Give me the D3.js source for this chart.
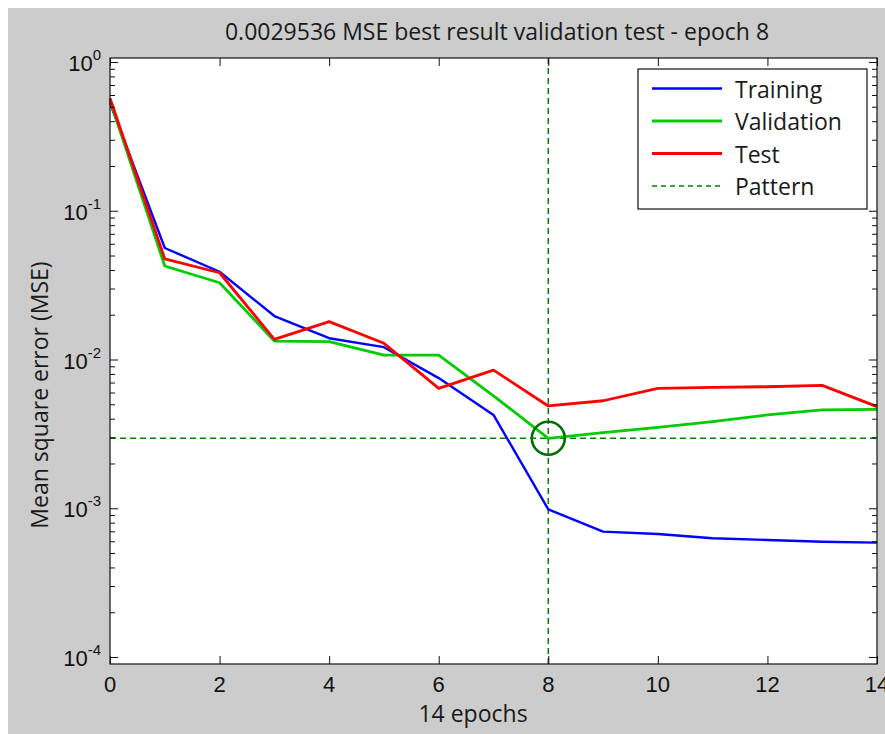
<!DOCTYPE html>
<html><head><meta charset="utf-8">
<script src="https://cdn.jsdelivr.net/npm/d3@7"></script>
<style>body{margin:0;background:#fff}svg{display:block}</style>
</head><body>
<svg id="chart" width="885" height="734"></svg>
<script>
// ---- data ----
const epochs = [0,1,2,3,4,5,6,7,8,9,10,11,12,13,14];
const training   = [0.53, 0.0562, 0.0389, 0.0196, 0.0139, 0.0121, 0.0075, 0.00424, 0.000984, 0.000696, 0.000671, 0.000628, 0.000612, 0.000596, 0.000587];
const validation = [0.55, 0.0425, 0.0328, 0.0133, 0.0132, 0.0107, 0.0107, 0.0057, 0.0029536, 0.00322, 0.0035, 0.00382, 0.00424, 0.00458, 0.00462];
const test       = [0.57, 0.0474, 0.0383, 0.01367, 0.01796, 0.01285, 0.0064, 0.00849, 0.00487, 0.00528, 0.0064, 0.0065, 0.00656, 0.0067, 0.00482];
const bestEpoch = 8;
const bestValue = 0.0029536;
const xTicks = [0,2,4,6,8,10,12,14];
const yTickExponents = [0,-1,-2,-3,-4];
const seriesNames = ["Training","Validation","Test","Pattern"];
const titleText = "0.0029536 MSE best result validation test - epoch 8";
const xLabelText = "14 epochs";
const yLabelText = "Mean square error (MSE)";

// ---- layout ----
const svg = d3.select("#chart");
const W = 885, H = 734;
const left = 110, right = 877;
const yTopDecade = 62, yBotDecade = 657;
const frameTop = 58, frameBottom = 664;

svg.append("rect").attr("x",8).attr("y",8).attr("width",W-8).attr("height",H-8).attr("fill","#cccccc");

const x = d3.scaleLinear().domain([0,14]).range([left,right]);
const y = d3.scaleLog().domain([1e-4,1]).range([yBotDecade,yTopDecade]);

svg.append("rect").attr("x",left).attr("y",frameTop).attr("width",right-left).attr("height",frameBottom-frameTop)
  .attr("fill","#ffffff");

const tickFont = "'Liberation Sans', Arial, sans-serif";
const textFont = "'Open Sans', 'Noto Sans', sans-serif";

// pattern lines
const patColor = "#008000";
svg.append("line").attr("x1",x(bestEpoch)).attr("x2",x(bestEpoch)).attr("y1",frameTop).attr("y2",frameBottom)
  .attr("stroke",patColor).attr("stroke-width",1.5).attr("stroke-dasharray","6,4");
svg.append("line").attr("x1",left).attr("x2",right).attr("y1",y(bestValue)).attr("y2",y(bestValue))
  .attr("stroke",patColor).attr("stroke-width",1.5).attr("stroke-dasharray","6,4");

// data lines
const line = d3.line().x((d,i)=>x(epochs[i])).y(d=>y(d));
const series = [
  {name:"Training", values:training, color:"#0000ff", w:2.4},
  {name:"Validation", values:validation, color:"#00cc00", w:2.8},
  {name:"Test", values:test, color:"#ff0000", w:2.8}
];
series.forEach(s=>{
  svg.append("path").attr("d",line(s.values)).attr("fill","none")
    .attr("stroke",s.color).attr("stroke-width",s.w).attr("stroke-linejoin","round");
});

// best circle
svg.append("circle").attr("cx",x(bestEpoch)).attr("cy",y(bestValue)).attr("r",16.5)
  .attr("fill","none").attr("stroke","#006e00").attr("stroke-width",2.6);

// frame
svg.append("rect").attr("x",left).attr("y",frameTop).attr("width",right-left).attr("height",frameBottom-frameTop)
  .attr("fill","none").attr("stroke","#111").attr("stroke-width",1.2);

// x ticks (top and bottom, inward)
const axB = d3.axisBottom(x).tickValues(xTicks).tickSize(-8).tickFormat("");
const axT = d3.axisTop(x).tickValues(xTicks).tickSize(-8).tickFormat("");
svg.append("g").attr("transform",`translate(0,${frameBottom})`).call(axB).call(g=>g.select(".domain").remove())
  .selectAll("line").attr("stroke","#111");
svg.append("g").attr("transform",`translate(0,${frameTop})`).call(axT).call(g=>g.select(".domain").remove())
  .selectAll("line").attr("stroke","#111");

// y ticks major/minor
const majorVals = yTickExponents.map(e=>Math.pow(10,e));
const minorVals = [];
[-4,-3,-2,-1].forEach(e=>{ for(let m=2;m<=9;m++) minorVals.push(m*Math.pow(10,e)); });
[[d3.axisLeft, left, -8, majorVals],[d3.axisLeft, left, -5, minorVals],
 [d3.axisRight, right, -8, majorVals],[d3.axisRight, right, -5, minorVals]].forEach(([fn,pos,sz,vals])=>{
  svg.append("g").attr("transform",`translate(${pos},0)`)
    .call(fn(y).tickValues(vals).tickSize(sz).tickFormat(""))
    .call(g=>g.select(".domain").remove())
    .selectAll("line").attr("stroke","#111");
});

// x tick labels
svg.append("g").selectAll("text").data(xTicks).join("text")
  .attr("x",d=>x(d)).attr("y",692).attr("text-anchor","middle")
  .attr("font-family",tickFont).attr("font-size",22).attr("fill","#111").text(d=>d);

// y tick labels 10^e
const yl = svg.append("g").selectAll("text").data(yTickExponents).join("text")
  .attr("x",101).attr("y",d=>y(Math.pow(10,d))+9).attr("text-anchor","end")
  .attr("font-family",tickFont).attr("fill","#111");
yl.append("tspan").attr("font-size",22).text("10");
yl.append("tspan").attr("font-size",15).attr("dy",-11).text(d=>d===0?"0":String(d));

// title & labels
svg.append("text").attr("x",497).attr("y",40).attr("text-anchor","middle")
  .attr("font-family",textFont).attr("font-size",23).attr("fill","#1a1a1a").text(titleText);
svg.append("text").attr("x",473).attr("y",722).attr("text-anchor","middle")
  .attr("font-family",textFont).attr("font-size",23).attr("fill","#1a1a1a").text(xLabelText);
svg.append("text").attr("transform","translate(48,395) rotate(-90)").attr("text-anchor","middle")
  .attr("font-family",textFont).attr("font-size",23).attr("fill","#1a1a1a").text(yLabelText);

// legend
const lg = svg.append("g");
lg.append("rect").attr("x",638).attr("y",69).attr("width",229).attr("height",140)
  .attr("fill","#fff").attr("stroke","#111").attr("stroke-width",1.2);
const legendItems = [
  {name:seriesNames[0], color:"#0000ff", w:2.6, dash:null},
  {name:seriesNames[1], color:"#00cc00", w:2.8, dash:null},
  {name:seriesNames[2], color:"#ff0000", w:2.8, dash:null},
  {name:seriesNames[3], color:patColor, w:1.5, dash:"5,4"}
];
legendItems.forEach((it,i)=>{
  const yy = 88.5 + i*32.5;
  lg.append("line").attr("x1",652).attr("x2",722).attr("y1",yy).attr("y2",yy)
    .attr("stroke",it.color).attr("stroke-width",it.w).attr("stroke-dasharray",it.dash);
  lg.append("text").attr("x",735).attr("y",yy+9).attr("font-family",textFont).attr("font-size",23)
    .attr("fill","#1a1a1a").text(it.name);
});
</script>
</body></html>
